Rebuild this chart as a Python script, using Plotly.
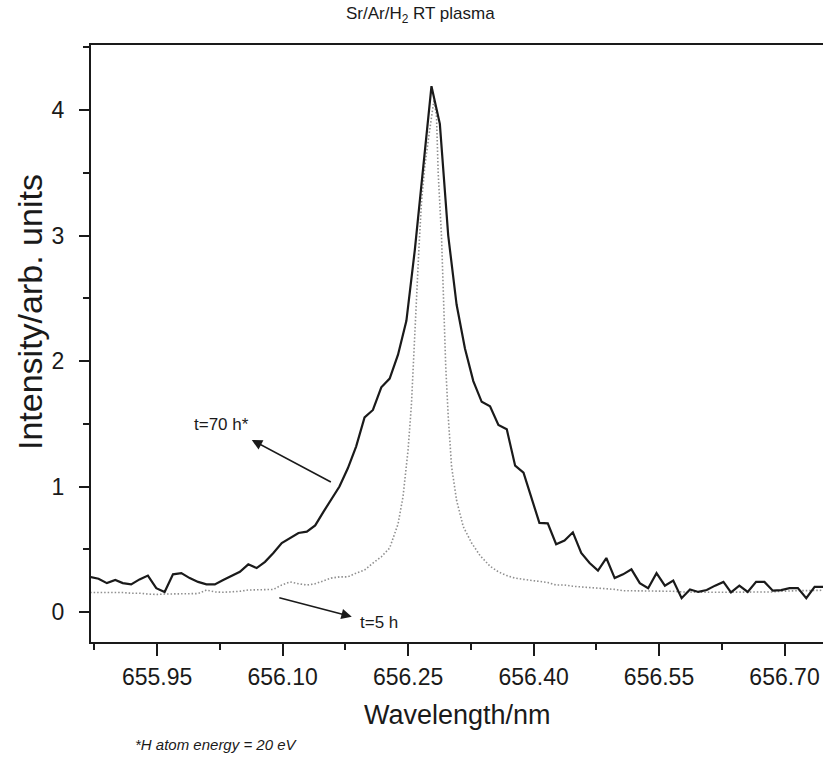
import plotly.graph_objects as go

# ---- data ----
wl_70h = [655.870, 655.880, 655.890, 655.900, 655.909, 655.919, 655.929, 655.939, 655.949, 655.959,
          655.969, 655.979, 655.989, 655.999, 656.009, 656.019, 656.029, 656.039, 656.049, 656.059,
          656.069, 656.079, 656.089, 656.099, 656.109, 656.119, 656.129, 656.139, 656.149, 656.158,
          656.168, 656.178, 656.188, 656.198, 656.208, 656.218, 656.228, 656.238, 656.248, 656.258,
          656.268, 656.278, 656.288, 656.298, 656.308, 656.318, 656.328, 656.338, 656.348, 656.358,
          656.368, 656.378, 656.388, 656.398, 656.407, 656.417, 656.427, 656.437, 656.447, 656.457,
          656.467, 656.477, 656.487, 656.497, 656.507, 656.517, 656.527, 656.537, 656.547, 656.557,
          656.567, 656.577, 656.587, 656.597, 656.607, 656.617, 656.627, 656.636, 656.646, 656.656,
          656.666, 656.676, 656.686, 656.696, 656.706, 656.716, 656.726, 656.736, 656.746, 656.756]

int_70h = [0.28, 0.265, 0.23, 0.255, 0.23, 0.22, 0.26, 0.29, 0.19, 0.16,
           0.30, 0.31, 0.27, 0.24, 0.22, 0.22, 0.255, 0.29, 0.32, 0.38,
           0.35, 0.40, 0.47, 0.55, 0.59, 0.63, 0.64, 0.69, 0.80, 0.89,
           1.00, 1.145, 1.32, 1.55, 1.61, 1.79, 1.86, 2.05, 2.32, 2.88,
           3.55, 4.19, 3.89, 3.00, 2.45, 2.10, 1.84, 1.675, 1.64, 1.49,
           1.456, 1.166, 1.11, 0.89, 0.71, 0.707, 0.54, 0.57, 0.635, 0.47,
           0.39, 0.33, 0.43, 0.27, 0.30, 0.34, 0.23, 0.19, 0.31, 0.21,
           0.25, 0.11, 0.18, 0.16, 0.175, 0.21, 0.24, 0.157, 0.21, 0.16,
           0.24, 0.24, 0.17, 0.175, 0.19, 0.19, 0.11, 0.20, 0.20, 0.20]

wl_5h = [655.870, 655.880, 655.890, 655.900, 655.909, 655.919, 655.929, 655.939, 655.949, 655.959,
         655.969, 655.979, 655.989, 655.999, 656.009, 656.019, 656.029, 656.039, 656.049, 656.059,
         656.069, 656.079, 656.089, 656.099, 656.109, 656.119, 656.129, 656.139, 656.149, 656.158,
         656.168, 656.178, 656.188, 656.198, 656.208, 656.218, 656.228, 656.238,
         656.244, 656.250, 656.254, 656.256, 656.258, 656.260, 656.263, 656.266, 656.270, 656.275,
         656.279, 656.281, 656.284, 656.286, 656.290, 656.292, 656.295, 656.298, 656.302, 656.308,
         656.316, 656.326, 656.336,
         656.348, 656.358, 656.368, 656.378, 656.388, 656.398, 656.407, 656.417, 656.427, 656.437,
         656.447, 656.457, 656.467, 656.477, 656.487, 656.497, 656.507, 656.517, 656.527, 656.537,
         656.547, 656.557, 656.567, 656.577, 656.587, 656.597, 656.607, 656.617, 656.627, 656.636,
         656.646, 656.656, 656.666, 656.676, 656.686, 656.696, 656.706, 656.716, 656.726, 656.736,
         656.746, 656.756]

int_5h = [0.155, 0.155, 0.157, 0.157, 0.155, 0.15, 0.15, 0.143, 0.14, 0.143,
          0.143, 0.143, 0.147, 0.147, 0.175, 0.16, 0.157, 0.16, 0.165, 0.175,
          0.175, 0.175, 0.18, 0.215, 0.24, 0.225, 0.215, 0.225, 0.25, 0.27,
          0.28, 0.28, 0.31, 0.335, 0.39, 0.44, 0.51, 0.70,
          0.92, 1.29, 1.65, 1.95, 2.22, 2.47, 2.90, 3.26, 3.55, 3.80,
          4.00, 4.08, 3.95, 3.50, 2.99, 2.49, 1.96, 1.56, 1.16, 0.89,
          0.68, 0.55, 0.45,
          0.365, 0.32, 0.29, 0.27, 0.26, 0.25, 0.24, 0.235, 0.215, 0.215,
          0.205, 0.20, 0.20, 0.195, 0.19, 0.18, 0.17, 0.17, 0.165, 0.165,
          0.165, 0.165, 0.165, 0.16, 0.157, 0.157, 0.157, 0.157, 0.157, 0.157,
          0.16, 0.16, 0.16, 0.16, 0.16, 0.165, 0.17, 0.17, 0.17, 0.17,
          0.175, 0.175]

x_tick_vals = [655.95, 656.10, 656.25, 656.40, 656.55, 656.70]
x_tick_text = ["655.95", "656.10", "656.25", "656.40", "656.55", "656.70"]
y_tick_vals = [0, 1, 2, 3, 4]

title_text = "Sr/Ar/H<sub>2</sub> RT plasma"
x_title = "Wavelength/nm"
y_title = "Intensity/arb. units"
label_70h = "t=70 h*"
label_5h = "t=5 h"
footnote = "*H atom energy = 20 eV"

FONT = "Liberation Sans, Arial, Helvetica, sans-serif"
INK = "#1a1a1a"

fig = go.Figure()
fig.add_trace(go.Scatter(x=wl_5h, y=int_5h, mode="lines",
                         line=dict(color="#8f8f8f", width=1.6, dash="1.5px,2px"),
                         showlegend=False, hoverinfo="skip"))
fig.add_trace(go.Scatter(x=wl_70h, y=int_70h, mode="lines",
                         line=dict(color=INK, width=2.2),
                         showlegend=False, hoverinfo="skip"))

fig.update_layout(
    width=823, height=761,
    margin=dict(l=91, r=0, t=45, b=119, autoexpand=False),
    paper_bgcolor="white", plot_bgcolor="white",
    font=dict(family=FONT, color=INK),
    showlegend=False,
)

fig.update_xaxes(
    range=[655.871, 656.746], automargin=False,
    showline=True, linewidth=2, linecolor=INK, mirror=True,
    showgrid=False, zeroline=False,
    ticks="outside", ticklen=12, tickwidth=2, tickcolor=INK,
    tickvals=x_tick_vals, ticktext=x_tick_text,
    tickfont=dict(size=23, family=FONT, color=INK),
    ticklabelstandoff=1,
    minor=dict(ticks="outside", ticklen=6, tickwidth=2, tickcolor=INK,
               dtick=0.075, tick0=655.875, showgrid=False),
)
fig.update_yaxes(
    range=[-0.239, 4.518], automargin=False,
    showline=True, linewidth=2, linecolor=INK, mirror=False,
    showgrid=False, zeroline=False,
    ticks="outside", ticklen=10, tickwidth=2, tickcolor=INK,
    tickvals=y_tick_vals,
    tickfont=dict(size=23, family=FONT, color=INK),
    ticklabelstandoff=10,
    minor=dict(ticks="outside", ticklen=6, tickwidth=2, tickcolor=INK,
               dtick=0.5, tick0=0, showgrid=False),
)

# texts
fig.add_annotation(text=title_text, xref="paper", yref="paper", x=0.4495, y=1.050,
                   xanchor="center", yanchor="middle", showarrow=False,
                   font=dict(size=17, family=FONT, color=INK))
fig.add_annotation(text=x_title, xref="paper", yref="paper", x=0.5, y=-0.1223,
                   xanchor="center", yanchor="middle", showarrow=False,
                   font=dict(size=27, family=FONT, color=INK))
fig.add_annotation(text=y_title, xref="paper", yref="paper", x=-0.0833, y=0.5528,
                   xanchor="center", yanchor="middle", showarrow=False, textangle=-90,
                   font=dict(size=34, family=FONT, color=INK))
fig.add_annotation(text=footnote, xref="paper", yref="paper", x=0.0574, y=-0.1725,
                   xanchor="left", yanchor="middle", showarrow=False,
                   font=dict(size=15, family=FONT, color=INK, style="italic"))
fig.add_annotation(text=label_70h, xref="paper", yref="paper", x=0.1776, y=0.3635,
                   xanchor="center", yanchor="middle", showarrow=False,
                   font=dict(size=17, family=FONT, color=INK))
fig.add_annotation(text=label_5h, xref="paper", yref="paper", x=0.3648, y=0.0335,
                   xanchor="left", yanchor="middle", showarrow=False,
                   font=dict(size=17, family=FONT, color=INK))

# arrows
fig.add_annotation(x=656.0632, y=1.3705, ax=656.1595, ay=1.030,
                   xref="x", yref="y", axref="x", ayref="y", text="",
                   showarrow=True, arrowhead=2, arrowsize=1.3, arrowwidth=1.6, arrowcolor=INK)
fig.add_annotation(x=656.1827, y=-0.0375, ax=656.0943, ay=0.117,
                   xref="x", yref="y", axref="x", ayref="y", text="",
                   showarrow=True, arrowhead=2, arrowsize=1.3, arrowwidth=1.6, arrowcolor=INK)

fig.write_html("out.html", config={"displayModeBar": False},
               post_script="document.body.style.margin='0';document.body.style.overflow='hidden';")
